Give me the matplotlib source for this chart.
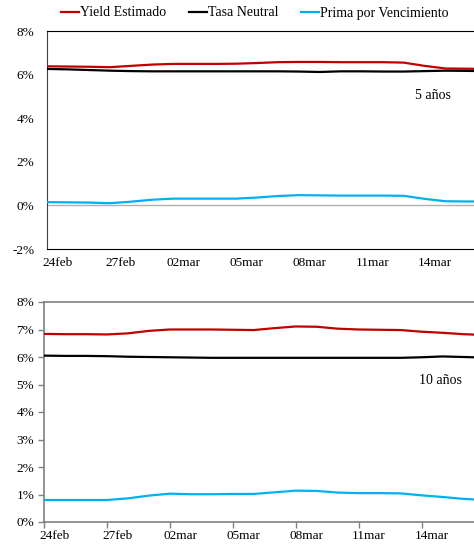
import matplotlib
matplotlib.use('Agg')
import matplotlib.pyplot as plt
import numpy as np

plt.rcParams['font.family'] = ['Liberation Serif', 'DejaVu Serif']
plt.rcParams['font.size'] = 9.5

# daily observations, 24feb .. 17mar (day 0 .. 21)
days = list(range(22))
tick_days = [0, 3, 6, 9, 12, 15, 18]
tick_labels = ['24feb', '27feb', '02mar', '05mar', '08mar', '11mar', '14mar']

# 5 year tenor
yield_5 = [6.38, 6.37, 6.36, 6.34, 6.40, 6.46, 6.49, 6.49, 6.49, 6.50, 6.53,
           6.57, 6.58, 6.58, 6.57, 6.57, 6.57, 6.55, 6.40, 6.28, 6.27, 6.26]
neutral_5 = [6.26, 6.24, 6.21, 6.18, 6.16, 6.15, 6.15, 6.15, 6.15, 6.15, 6.15,
             6.15, 6.14, 6.12, 6.15, 6.15, 6.14, 6.14, 6.16, 6.18, 6.17, 6.16]
premium_5 = [0.15, 0.14, 0.13, 0.10, 0.17, 0.26, 0.31, 0.31, 0.31, 0.31, 0.36,
             0.43, 0.47, 0.46, 0.45, 0.45, 0.45, 0.44, 0.30, 0.19, 0.18, 0.18]

# 10 year tenor
yield_10 = [6.84, 6.83, 6.83, 6.82, 6.86, 6.95, 7.00, 7.00, 7.00, 6.99, 6.98,
            7.05, 7.11, 7.10, 7.03, 7.00, 6.99, 6.98, 6.92, 6.88, 6.83, 6.80]
neutral_10 = [6.05, 6.04, 6.04, 6.03, 6.01, 6.00, 5.99, 5.98, 5.97, 5.97, 5.97,
              5.97, 5.97, 5.97, 5.97, 5.97, 5.97, 5.97, 5.99, 6.02, 6.00, 5.98]
premium_10 = [0.80, 0.80, 0.80, 0.80, 0.86, 0.96, 1.03, 1.01, 1.01, 1.02, 1.02,
              1.08, 1.14, 1.13, 1.07, 1.05, 1.05, 1.04, 0.97, 0.91, 0.84, 0.80]

red = '#C00000'
blk = '#000000'
blue = '#00B0F0'
lw = 1.6

fig = plt.figure(figsize=(4.74, 5.46), dpi=100)
ax1 = fig.add_axes([47/474, 1 - 249/546, 1 - 47/474, 218/546])
ax2 = fig.add_axes([44/474, 1 - 522/546, 1 - 44/474, 220/546])

def draw(ax, y, n, p):
    ax.plot(days, y, color=red, lw=lw, label='Yield Estimado', zorder=3)
    ax.plot(days, n, color=blk, lw=lw, label='Tasa Neutral', zorder=3)
    ax.plot(days, p, color=blue, lw=lw, label='Prima por Vencimiento', zorder=3)
    # tick marks on the dates, labels centred half a day later
    ax.set_xticks(tick_days)
    ax.set_xticklabels([''] * len(tick_days))
    ax.set_xticks([d + 0.5 for d in tick_days], minor=True)
    ax.set_xticklabels(tick_labels, minor=True)
    ax.tick_params(axis='x', which='minor', length=0)
    ax.spines['right'].set_visible(False)

# top panel
draw(ax1, yield_5, neutral_5, premium_5)
ax1.set_xlim(0, 20.35)
ax1.set_ylim(-2, 8)
ax1.set_yticks([-2, 0, 2, 4, 6, 8])
ax1.set_yticklabels(['-2%', '0%', '2%', '4%', '6%', '8%'])
ax1.axhline(0, color='#b0b0b0', lw=1.0, zorder=1)
ax1.tick_params(axis='y', length=0, pad=9)
ax1.tick_params(axis='x', which='both', length=0, pad=6)
ax1.spines['left'].set_color('#404040')
ax1.spines['top'].set_color('#000000')
ax1.spines['bottom'].set_color('#000000')
ax1.text(18.4, 5.05, '5 años', ha='center', va='center', fontsize=10)

# bottom panel
draw(ax2, yield_10, neutral_10, premium_10)
ax2.set_xlim(0, 20.5)
ax2.set_ylim(0, 8)
ax2.set_yticks(np.arange(0, 9))
ax2.set_yticklabels(['%d%%' % v for v in range(9)])
ax2.tick_params(axis='both', which='major', length=4, width=1, color='#808080')
ax2.tick_params(axis='y', pad=3)
ax2.tick_params(axis='x', which='minor', pad=6)
for s in ['left', 'top', 'bottom']:
    ax2.spines[s].set_color('#808080')
    ax2.spines[s].set_linewidth(1.2)
ax2.text(18.9, 5.13, '10 años', ha='center', va='center', fontsize=10)

handles, labels = ax1.get_legend_handles_labels()
fig.legend(handles, labels, loc='center', bbox_to_anchor=(255/474, 1 - 13/546),
           ncol=3, frameon=False, handlelength=1.3, handletextpad=0.1,
           columnspacing=1.6, fontsize=10, borderaxespad=0)

fig.savefig('out.png', dpi=100)
